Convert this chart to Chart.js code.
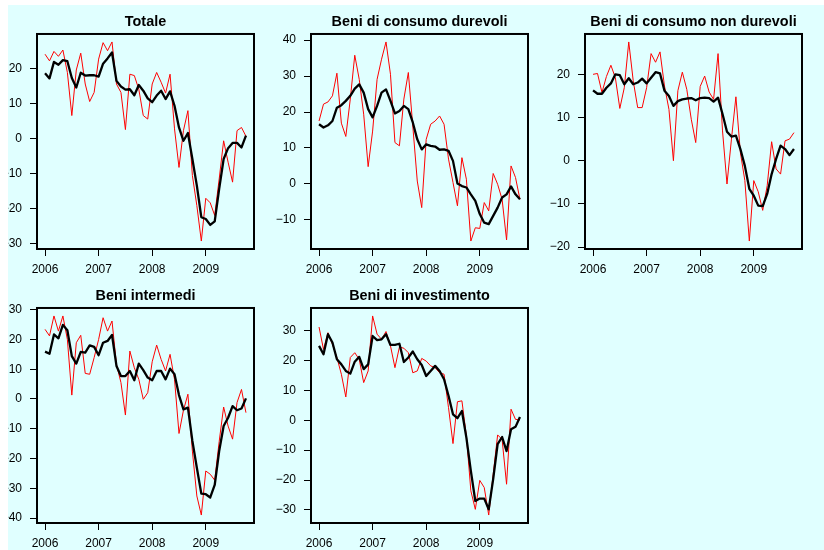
<!DOCTYPE html>
<html>
<head>
<meta charset="utf-8">
<script src="https://cdn.jsdelivr.net/npm/chart.js@4/dist/chart.umd.min.js"></script>
<style>
  html, body { margin: 0; padding: 0; background: #ffffff; overflow: hidden; }
  #sheet { position: absolute; left: 8px; top: 5px; width: 816px; height: 545px; background: #e0ffff; overflow: hidden; }
  canvas { position: absolute; }
</style>
</head>
<body>
<div id="sheet"></div>
<script>
// mesi da gen 2006 a ott 2009 (46 osservazioni)
const years = ["2006", "2007", "2008", "2009"];
const nMonths = 46;

const titles = ["Totale", "Beni di consumo durevoli", "Beni di consumo non durevoli", "Beni intermedi", "Beni di investimento"];

// serie grezza (rossa) e media mobile (nera)
const totaleRaw = [24, 22.1, 24.8, 23.4, 25.2, 18.8, 6.5, 19.5, 24.3, 15.5, 10.5, 13.1, 22.6, 27.3, 25, 27.5, 15.5, 13.1, 2.5, 18.3, 17.9, 14, 6.5, 5.5, 15.5, 18.8, 16, 12.9, 18.3, 2.7, -8.3, 2.2, 7.9, -10.6, -19.2, -29.3, -17.1, -18.4, -22, -11.6, -0.7, -6.8, -12.5, 2.2, 3.1, 0.6];
const totaleSmooth = [18.6, 17.1, 21.8, 21, 22.3, 22, 17.2, 14.5, 18.7, 17.9, 18, 18, 17.6, 21.3, 22.8, 24.5, 16.4, 14.8, 13.9, 14, 12.3, 15.2, 13.6, 11.4, 10.3, 12.2, 13.6, 11.2, 13.4, 9.3, 3.1, -0.7, 1.5, -5.9, -13.5, -22.5, -23, -24.7, -23.7, -14.4, -5.9, -2.8, -1.3, -1.3, -2.6, 0.8];

const durevoliRaw = [17.5, 22.2, 22.8, 24.5, 30.8, 16.9, 13.2, 23.6, 35.8, 29.1, 19.4, 4.8, 14.7, 29.1, 34.7, 39.5, 30.5, 11.5, 10.6, 23.6, 31, 16.1, 0.8, -6.6, 12.4, 16.6, 17.5, 18.9, 16.6, 6.9, 0.4, -6.1, 7.3, 1.3, -15.9, -12.2, -12.4, -5.2, -7.5, 2.9, -0.1, -4.3, -15.6, 5, 1.8, -4.3];
const durevoliSmooth = [16.6, 15.7, 16.3, 17.5, 21.2, 21.9, 23.1, 24.5, 26.5, 27.7, 25.4, 20.8, 18.5, 21.7, 25.4, 26.3, 23.1, 19.6, 20.3, 21.7, 20.8, 17.1, 12.4, 9.6, 11, 10.6, 10.4, 9.5, 9.6, 9.2, 6.4, 0.1, -0.6, -1, -2.9, -4.7, -8.4, -10.8, -11.2, -8.9, -6.6, -3.8, -2.9, -0.7, -2.9, -4.3];

const nonDurevoliRaw = [20, 20.2, 15.8, 19.5, 22.1, 19.2, 12.1, 16.9, 27.5, 18.5, 12.3, 12.3, 16.9, 24.8, 22.8, 25.2, 17.3, 11.9, 0, 16.2, 20.5, 16.5, 9.6, 4.2, 17.2, 19.6, 15.9, 14.2, 24.8, 6.9, -5.4, 5, 14.8, 1.9, -4.6, -18.6, -4.6, -7.2, -11.5, -5.8, 4.4, -1.9, -3.1, 4.6, 5, 6.5];
const nonDurevoliSmooth = [16.3, 15.5, 15.5, 16.9, 17.9, 20, 19.8, 17.7, 19.1, 17.7, 18.1, 19, 17.9, 19.2, 20.5, 20.2, 16.2, 15, 12.7, 13.8, 14.2, 14.4, 14.5, 14, 14.5, 14.6, 14.5, 13.7, 14.6, 10.8, 6.7, 5.6, 5.8, 2.7, -1.2, -6.5, -8.1, -10.4, -10.5, -7.7, -3.1, 0.4, 3.5, 2.7, 1.3, 2.7];

const intermediRaw = [23.4, 21.2, 27.9, 22.8, 27.9, 20, 1.3, 18.9, 21.4, 8.6, 8.3, 13.9, 20, 27.3, 22.8, 26.2, 11.6, 5.5, -5.4, 16.1, 10.5, 6.6, -0.1, 2.1, 12.5, 18.1, 13.3, 9.4, 15, 6.6, -11.6, -3.8, 1.6, -17.5, -32.6, -39, -24.2, -25.3, -27.3, -14.3, -2.7, -9.1, -13.5, -1.2, 3.2, -4.6];
const intermediSmooth = [15.9, 15.2, 21.7, 20.4, 24.9, 23.1, 14.4, 11.9, 15.8, 15.6, 18, 17.5, 14.7, 18.9, 19.5, 21.5, 11.1, 7.7, 7.7, 9.4, 6.3, 11.9, 9.7, 7.2, 6.3, 9.4, 9.4, 6.6, 10.2, 8.3, 1.3, -3.5, -2.9, -14.1, -23.1, -31.8, -32, -33.1, -28.9, -17.5, -9.1, -6.3, -2.4, -3.8, -3.2, 0.2];

const investimentoRaw = [31.2, 23.7, 29.3, 25.4, 21, 15.4, 7.8, 21, 22.6, 20.4, 12.6, 16.5, 34.9, 28.8, 27.1, 29.7, 24.9, 17.6, 24.5, 24.1, 22.6, 15.9, 16.5, 20.7, 19.8, 18.2, 17.6, 15.9, 15.4, 4.2, -7.8, 6.2, 6.5, -5.2, -23.6, -29.8, -20.1, -22.5, -31.7, -18.1, -4.9, -6.4, -21.4, 3.7, 0.3, 0.1];
const investimentoSmooth = [24.9, 22.1, 28.8, 26, 20.4, 18.7, 16.5, 15.6, 19.6, 21.2, 17.1, 18.7, 28.2, 26.8, 27.1, 28.8, 25.2, 25.2, 25.6, 19.5, 21, 23, 20.4, 18.5, 14.8, 16.5, 18.2, 16.5, 13.7, 8.2, 2, 0.7, 3.1, -5.8, -16.9, -27, -26.2, -26.2, -29.8, -19.7, -8, -5.6, -10.3, -3, -2.2, 1.1];

const rawSeries = [totaleRaw, durevoliRaw, nonDurevoliRaw, intermediRaw, investimentoRaw];
const smoothSeries = [totaleSmooth, durevoliSmooth, nonDurevoliSmooth, intermediSmooth, investimentoSmooth];

const FONT = "'Liberation Sans', Arial, Helvetica, sans-serif";
const sheet = document.getElementById("sheet");

// riquadro stile R attorno all'area del grafico
const boxPlugin = {
    id: "rbox",
    afterDatasetsDraw(chart) {
        const a = chart.chartArea;
        const ctx = chart.ctx;
        ctx.save();
        ctx.strokeStyle = "#000";
        ctx.lineWidth = 2;
        ctx.strokeRect(a.left, a.top, a.right - a.left, a.bottom - a.top);
        ctx.restore();
    }
};

function toPoints(arr) {
    return arr.map((v, i) => ({ x: i, y: v }));
}

function makePanel(k) {
    const col = k % 3;
    const row = Math.floor(k / 3);
    const boxLeft = 29 + col * 274;   // posizione nel foglio azzurro
    const boxTop = 29 + row * 274;
    const yW = col === 0 ? 29 : 45;   // la colonna sinistra taglia il segno meno
    const rightPad = 14;
    const boxW = 217, boxH = 215;
    const xH = row === 0 ? 28 : 27;

    const canvas = document.createElement("canvas");
    canvas.width = yW + boxW + rightPad;
    canvas.height = 29 + boxH + xH;
    canvas.style.left = (boxLeft - yW) + "px";
    canvas.style.top = (boxTop - 29) + "px";
    sheet.appendChild(canvas);

    const all = rawSeries[k].concat(smoothSeries[k]);
    const lo = Math.min(...all), hi = Math.max(...all);
    const pad = (hi - lo) * 0.04;
    const yMin = lo - pad, yMax = hi + pad;
    const yTicks = [];
    for (let v = Math.ceil(yMin / 10) * 10; v <= yMax; v += 10) yTicks.push(v);

    new Chart(canvas.getContext("2d"), {
        type: "line",
        data: {
            datasets: [{
                data: toPoints(smoothSeries[k]),
                borderColor: "#000000",
                borderWidth: 2.3,
                pointRadius: 0,
                tension: 0,
                borderJoinStyle: "round"
            }, {
                data: toPoints(rawSeries[k]),
                borderColor: "#ff0000",
                borderWidth: 1,
                pointRadius: 0,
                tension: 0,
                borderJoinStyle: "round"
            }]
        },
        options: {
            responsive: false,
            animation: false,
            layout: { padding: { left: 0, right: rightPad, top: 0, bottom: 0 } },
            plugins: {
                legend: { display: false },
                tooltip: { enabled: false },
                title: {
                    display: true,
                    text: titles[k],
                    fullSize: false,
                    color: "#000",
                    font: { family: FONT, size: 14.4, weight: "bold" },
                    padding: { top: 8.5, bottom: 3.2 }
                }
            },
            scales: {
                x: {
                    type: "linear",
                    min: -0.04 * (nMonths - 1),
                    max: (nMonths - 1) * 1.04,
                    afterFit: (s) => { s.height = xH; },
                    afterBuildTicks: (s) => { s.ticks = years.map((y, i) => ({ value: i * 12 })); },
                    ticks: {
                        color: "#000",
                        font: { family: FONT, size: 12 },
                        padding: 6,
                        maxRotation: 0,
                        callback: (v) => years[v / 12]
                    },
                    grid: { drawOnChartArea: false, drawTicks: true, tickLength: 7, color: "#000", lineWidth: 1 },
                    border: { display: false }
                },
                y: {
                    min: yMin,
                    max: yMax,
                    afterFit: (s) => { s.width = yW; },
                    afterBuildTicks: (s) => { s.ticks = yTicks.map(v => ({ value: v })); },
                    ticks: {
                        color: "#000",
                        font: { family: FONT, size: 12 },
                        padding: 8,
                        callback: (v) => String(v).replace("-", "\u2212")
                    },
                    grid: { drawOnChartArea: false, drawTicks: true, tickLength: 7, color: "#000", lineWidth: 1 },
                    border: { display: false }
                }
            }
        },
        plugins: [boxPlugin]
    });
}

for (let k = 0; k < titles.length; k++) makePanel(k);
</script>
</body>
</html>
